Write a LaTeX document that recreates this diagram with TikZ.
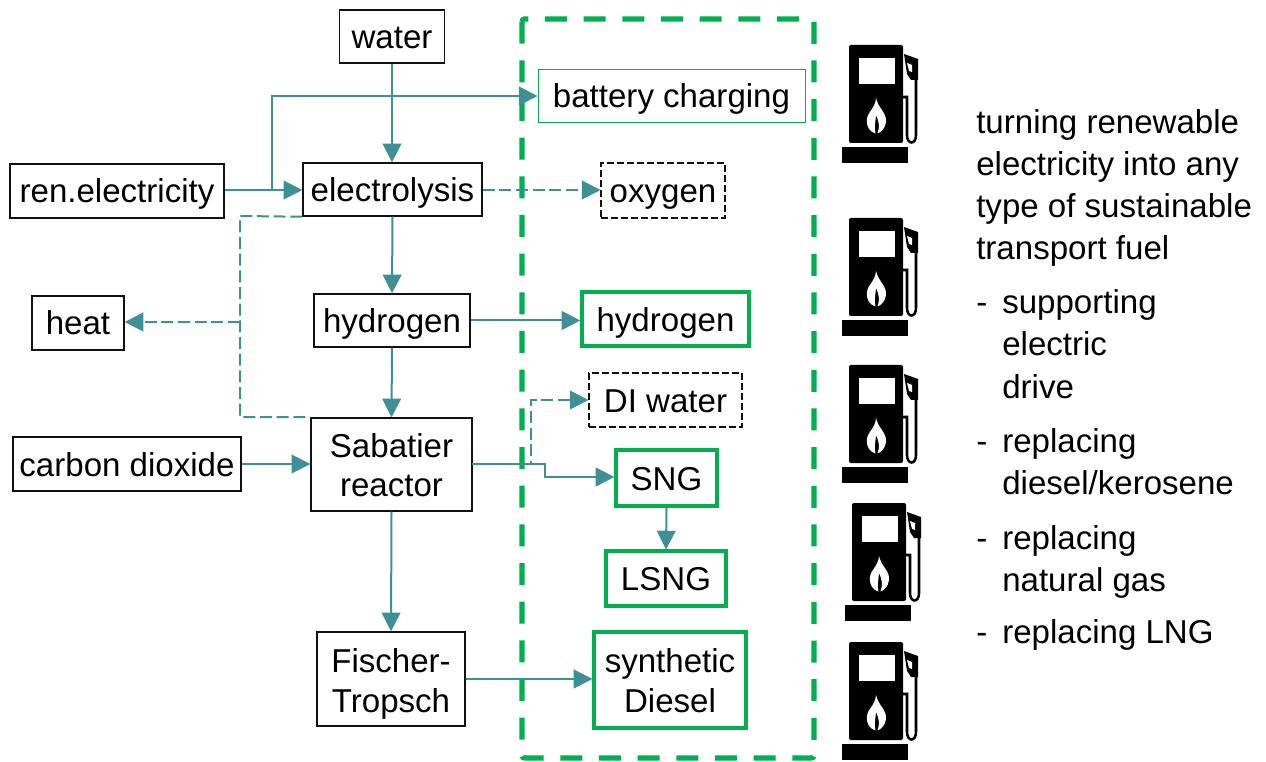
\documentclass[tikz,border=0pt]{standalone}
\usepackage{fontspec}
\setmainfont{Liberation Sans}
\usetikzlibrary{arrows.meta}
\definecolor{teal1}{HTML}{3F8F96}
\definecolor{green1}{HTML}{00B050}
\definecolor{ink}{HTML}{111111}
\newcommand{\upstrut}[1]{\rule{0pt}{#1}}
\tikzset{
  x=0.75pt,y=-0.75pt,
  boxbase/.style={draw=ink,line width=1.1pt,fill=white,inner sep=0pt,align=center,font=\fontsize{24.8}{29.3}\selectfont},
  box/.style={boxbase,text height=21pt,text depth=3pt},
  dbox/.style={box,line width=0.8pt,dash pattern=on 5pt off 2.5pt},
  gthin/.style={box,draw=green1,line width=0.7pt},
  gthick/.style={box,draw=green1,line width=2.4pt},
  gtwo/.style={boxbase,draw=green1,line width=2.4pt},
  flow/.style={draw=teal1,line width=1.5pt,-{Triangle[length=14pt,width=14pt]}},
  dflow/.style={flow,dash pattern=on 9pt off 3.5pt},
  note/.style={anchor=base west,inner sep=0pt,font=\fontsize{24.8}{31}\selectfont},
  pics/pump/.style={code={
    \fill[black,rounded corners=1.5pt] (0,0) rectangle (54,98);
    \fill[white] (10,13) rectangle (46,39);
    \fill[white] (27,53) .. controls (29,63) and (38,68) .. (37,77) .. controls (36,84) and (32,87) .. (28.5,88.5)
       .. controls (31,82) and (30,76) .. (27,70) .. controls (26.5,76) and (25,83) .. (26.5,88.5)
       .. controls (21,87) and (17,82) .. (18,74) .. controls (19,66) and (26,64) .. (27,53) -- cycle;
    \fill[black] (-7,102) rectangle (59,118);
    \fill[black] (55,9) -- (69,14) -- (69,35) -- (62,35) -- (58,29) -- cycle;
    \fill[white] (58,18) -- (63,20) -- (63,27) -- (60,26) -- cycle;
    \draw[black,line width=1.9pt] (54,52) -- (58,52) -- (58,90) .. controls (58,100) and (67,100) .. (67,90) -- (67,35);
  }}
}
\begin{document}
\begin{tikzpicture}
\useasboundingbox (0,0) rectangle (1266,762);
\draw[green1,line width=4pt,dash pattern=on 16.5pt off 12.5pt,rounded corners=2pt] (522,19) rectangle (814,758);

\node[box,minimum width=78.75pt,minimum height=39.75pt] (water) at (392,36.5) {water};
\node[gthin,minimum width=200.25pt,minimum height=39.75pt] (batt) at (671.5,95.5) {battery charging};
\node[box,minimum width=160.5pt,minimum height=40.5pt] (ren) at (117,191) {ren.electricity};
\node[box,minimum width=134.25pt,minimum height=39.75pt] (elec) at (392.5,189.5) {electrolysis};
\node[dbox,minimum width=93pt,minimum height=41.25pt] (oxy) at (663,190.5) {oxygen};
\node[box,minimum width=69pt,minimum height=40.5pt] (heat) at (78,323) {heat};
\node[box,minimum width=117pt,minimum height=39.75pt] (hyl) at (392,320.5) {hydrogen};
\node[gthick,minimum width=125.25pt,minimum height=40.5pt,text height=22.5pt] (hyr) at (665.5,319) {hydrogen};
\node[dbox,minimum width=114.75pt,minimum height=40.5pt] (di) at (665.5,400) {DI water};
\node[box,minimum width=171pt,minimum height=40.5pt] (co2) at (127,464) {carbon dioxide};
\node[boxbase,minimum width=120.75pt,minimum height=69.75pt] (sab) at (391.5,464.5) {\upstrut{19.5pt}Sabatier\\reactor};
\node[gthick,minimum width=75.75pt,minimum height=42pt] (sng) at (666.5,478) {SNG};
\node[gthick,minimum width=90pt,minimum height=41.25pt] (lsng) at (666,578.5) {LSNG};
\node[boxbase,minimum width=111pt,minimum height=70.5pt,font=\fontsize{24.8}{29.8}\selectfont] (ft) at (391,679) {\upstrut{25.5pt}Fischer-\\Tropsch};
\node[gtwo,minimum width=114pt,minimum height=72pt,font=\fontsize{24.8}{29.8}\selectfont] (syn) at (670,680) {\upstrut{19pt}synthetic\\Diesel};

\coordinate (branch) at (272,190);
\coordinate (battcorner) at (272,96);
\coordinate (dnw) at (240,216);
\coordinate (dheat) at (240,322);
\coordinate (dsw) at (240,417);
\coordinate (dout) at (472,464);
\coordinate (dup) at (531,464);
\coordinate (dtop) at (531,400);
\coordinate (sgA) at (545,464);
\coordinate (sgB) at (545,477);

\draw[flow] (water.south) -- (elec.north -| water.south);
\draw[flow] (ren.east |- branch) -- (elec.west |- branch);
\draw[flow] (branch) -- (battcorner) -- (batt.west |- battcorner);
\draw[dflow] (elec.east |- branch) -- (oxy.west |- branch);
\draw[flow] (elec.south) -- (hyl.north);
\draw[flow] (hyl.east) -- (hyr.west |- hyl.east);
\draw[flow] (hyl.south) -- (sab.north);
\draw[dflow,-] (elec.south west) -- (dnw) -- (dsw) -- (sab.north west);
\draw[dflow] (dheat) -- (heat.east |- dheat);
\draw[flow] (co2.east) -- (sab.west |- co2.east);
\draw[dflow] (dout) -- (dup) -- (dtop) -- (di.west);
\draw[flow] (dout) -- (sgA) -- (sgB) -- (sng.west |- sgB);
\draw[flow] (sng.south) -- (lsng.north);
\draw[flow] (sab.south) -- (ft.north);
\draw[flow] (ft.east) -- (syn.west |- ft.east);

\pic at (849,45) {pump};
\pic at (849,218) {pump};
\pic at (849,365) {pump};
\pic at (852,503) {pump};
\pic at (849,642) {pump};

\node[note] (n1) at (976,134) {turning renewable};
\node[note] (n2) at (976,176) {electricity into any};
\node[note] (n3) at (976,218) {type of sustainable};
\node[note] (n4) at (976,260) {transport fuel};
\node[note] (n5) at (976,314) {-};
\node[note] (n6) at (1002,314) {supporting};
\node[note] (n7) at (1002,356) {electric};
\node[note] (n8) at (1002,398) {drive};
\node[note] (n9) at (976,452) {-};
\node[note] (n10) at (1002,452) {replacing};
\node[note] (n11) at (1002,494) {diesel/kerosene};
\node[note] (n12) at (976,549) {-};
\node[note] (n13) at (1002,549) {replacing};
\node[note] (n14) at (1002,591) {natural gas};
\node[note] (n15) at (976,643) {-};
\node[note] (n16) at (1002,643) {replacing LNG};
\end{tikzpicture}
\end{document}
